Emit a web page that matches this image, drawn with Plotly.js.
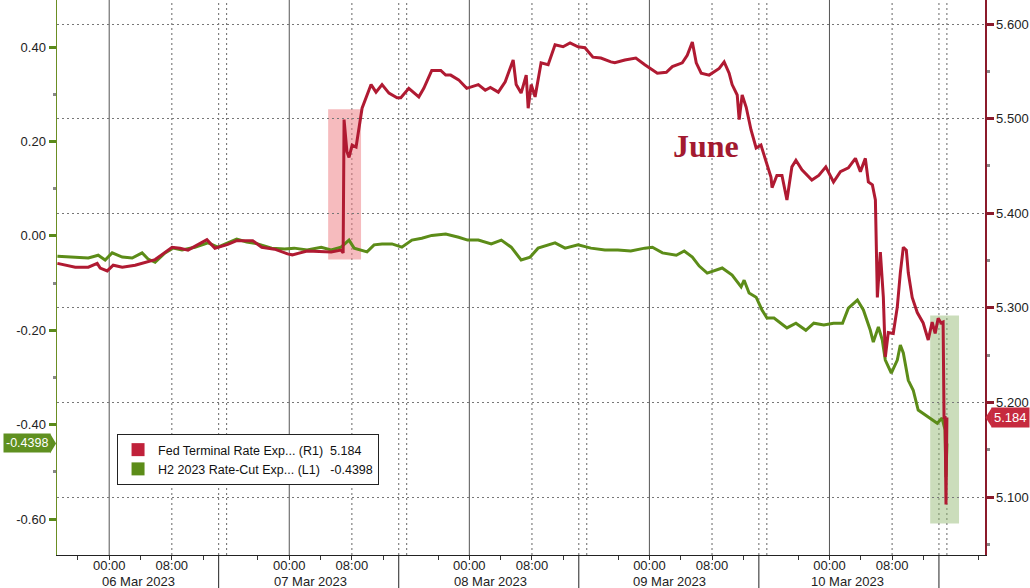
<!DOCTYPE html>
<html>
<head>
<meta charset="utf-8">
<script src="https://cdn.plot.ly/plotly-3.0.1.min.js"></script>
<style>html,body{margin:0;padding:0;background:#fff;}#chart{width:1030px;height:588px;}</style>
</head>
<body>
<div id="chart"></div>
<script>
// ---- Data ----
const fedTimes = ['2023-03-05 17:23','2023-03-05 19:40','2023-03-05 21:20','2023-03-05 22:28','2023-03-05 22:51','2023-03-05 23:45',
'2023-03-06 00:31','2023-03-06 01:40','2023-03-06 03:19','2023-03-06 05:52','2023-03-06 08:02','2023-03-06 09:03','2023-03-06 10:04','2023-03-06 12:29','2023-03-06 13:30',
'2023-03-06 16:09','2023-03-06 17:17','2023-03-06 19:20','2023-03-06 20:29','2023-03-06 22:08','2023-03-06 23:47',
'2023-03-07 00:23','2023-03-07 02:17','2023-03-07 04:05','2023-03-07 05:21','2023-03-07 06:37','2023-03-07 06:53','2023-03-07 07:00','2023-03-07 07:10','2023-03-07 07:22','2023-03-07 07:38','2023-03-07 08:02','2023-03-07 08:32','2023-03-07 08:55','2023-03-07 09:18','2023-03-07 10:27','2023-03-07 11:05','2023-03-07 11:51','2023-03-07 12:44','2023-03-07 13:46',
'2023-03-07 15:15','2023-03-07 16:16','2023-03-07 17:33','2023-03-07 18:11','2023-03-07 19:12','2023-03-07 20:21','2023-03-07 20:59','2023-03-07 21:37','2023-03-07 22:38','2023-03-07 23:40',
'2023-03-08 01:09','2023-03-08 02:02','2023-03-08 02:41','2023-03-08 03:42','2023-03-08 04:35','2023-03-08 05:36','2023-03-08 05:59','2023-03-08 06:37','2023-03-08 07:16','2023-03-08 07:31','2023-03-08 07:54','2023-03-08 08:24','2023-03-08 09:10','2023-03-08 10:04','2023-03-08 10:57','2023-03-08 11:58','2023-03-08 12:52','2023-03-08 13:53',
'2023-03-08 15:46','2023-03-08 16:47','2023-03-08 17:48','2023-03-08 19:05','2023-03-08 19:35','2023-03-08 20:52','2023-03-08 22:16','2023-03-08 23:25',
'2023-03-09 00:23','2023-03-09 01:01','2023-03-09 02:10','2023-03-09 02:56','2023-03-09 04:12','2023-03-09 04:50','2023-03-09 05:29','2023-03-09 05:59','2023-03-09 06:37','2023-03-09 07:38','2023-03-09 08:55','2023-03-09 09:33','2023-03-09 10:11','2023-03-09 10:34','2023-03-09 11:13','2023-03-09 11:28','2023-03-09 11:51','2023-03-09 12:22','2023-03-09 12:59','2023-03-09 13:38',
'2023-03-09 15:15','2023-03-09 15:53','2023-03-09 16:32','2023-03-09 16:40','2023-03-09 17:17','2023-03-09 17:56','2023-03-09 18:34','2023-03-09 19:12','2023-03-09 19:43','2023-03-09 20:29','2023-03-09 21:45','2023-03-09 22:38','2023-03-09 23:32',
'2023-03-10 00:31','2023-03-10 01:24','2023-03-10 02:25','2023-03-10 03:19','2023-03-10 03:57','2023-03-10 04:35','2023-03-10 04:58','2023-03-10 05:29','2023-03-10 05:52','2023-03-10 06:07','2023-03-10 06:30','2023-03-10 06:53','2023-03-10 07:08','2023-03-10 07:31','2023-03-10 08:09','2023-03-10 08:40','2023-03-10 09:03','2023-03-10 09:26','2023-03-10 09:49','2023-03-10 10:04','2023-03-10 10:34','2023-03-10 11:13','2023-03-10 11:58','2023-03-10 12:37','2023-03-10 13:07','2023-03-10 13:30','2023-03-10 13:53',
'2023-03-10 15:15','2023-03-10 15:31','2023-03-10 15:38','2023-03-10 15:46','2023-03-10 15:53','2023-03-10 16:00'];
const fedValues = [5.347,5.343,5.343,5.347,5.342,5.339,
5.345,5.343,5.345,5.351,5.364,5.363,5.361,5.372,5.363,
5.367,5.371,5.371,5.364,5.362,5.357,
5.356,5.360,5.359,5.359,5.361,5.358,5.499,5.480,5.465,5.459,5.472,5.470,5.491,5.511,5.536,5.528,5.536,5.527,5.522,
5.522,5.532,5.523,5.532,5.551,5.551,5.546,5.546,5.541,5.532,
5.536,5.530,5.533,5.528,5.539,5.562,5.536,5.527,5.546,5.511,5.536,5.523,5.559,5.557,5.578,5.576,5.580,5.576,
5.575,5.565,5.564,5.560,5.559,5.562,5.564,5.557,
5.551,5.548,5.549,5.555,5.559,5.567,5.581,5.559,5.548,5.546,5.553,5.560,5.548,5.536,5.525,5.499,5.525,5.512,5.488,5.469,
5.472,5.456,5.438,5.427,5.440,5.440,5.414,5.449,5.456,5.446,5.435,5.440,5.449,
5.433,5.444,5.448,5.458,5.444,5.458,5.433,5.430,5.414,5.311,5.359,5.311,5.248,5.274,5.273,5.301,5.337,5.364,5.361,5.337,5.311,5.295,5.284,5.266,5.285,5.273,5.289,
5.284,5.285,5.184,5.184,5.092,5.184];

const cutTimes = ['2023-03-05 17:23','2023-03-05 19:40','2023-03-05 21:20','2023-03-05 22:36','2023-03-05 23:29',
'2023-03-06 00:23','2023-03-06 01:40','2023-03-06 02:56','2023-03-06 04:12','2023-03-06 04:58','2023-03-06 05:52','2023-03-06 07:08','2023-03-06 08:09','2023-03-06 09:18','2023-03-06 10:57','2023-03-06 12:37','2023-03-06 13:53',
'2023-03-06 16:09','2023-03-06 17:17','2023-03-06 18:34','2023-03-06 19:58','2023-03-06 21:45','2023-03-06 23:25',
'2023-03-07 00:38','2023-03-07 02:17','2023-03-07 04:05','2023-03-07 05:21','2023-03-07 06:37','2023-03-07 07:38','2023-03-07 08:17','2023-03-07 09:56','2023-03-07 10:50','2023-03-07 11:51','2023-03-07 13:07',
'2023-03-07 15:23','2023-03-07 16:40','2023-03-07 17:56','2023-03-07 19:12','2023-03-07 20:59','2023-03-07 22:38','2023-03-07 23:47',
'2023-03-08 01:09','2023-03-08 02:48','2023-03-08 04:05','2023-03-08 05:21','2023-03-08 06:37','2023-03-08 07:46','2023-03-08 08:47','2023-03-08 10:57','2023-03-08 12:14','2023-03-08 13:53',
'2023-03-08 16:32','2023-03-08 18:19','2023-03-08 19:58','2023-03-08 21:37','2023-03-08 23:25',
'2023-03-09 00:23','2023-03-09 01:40','2023-03-09 03:26','2023-03-09 04:27','2023-03-09 05:29','2023-03-09 06:22','2023-03-09 07:23','2023-03-09 09:18','2023-03-09 10:34','2023-03-09 11:43','2023-03-09 12:06','2023-03-09 12:44','2023-03-09 13:38',
'2023-03-09 15:23','2023-03-09 16:01','2023-03-09 16:55','2023-03-09 18:34','2023-03-09 19:43','2023-03-09 20:59','2023-03-09 22:00','2023-03-09 23:17',
'2023-03-10 00:31','2023-03-10 01:40','2023-03-10 02:25','2023-03-10 03:34','2023-03-10 04:20','2023-03-10 05:13','2023-03-10 05:36','2023-03-10 06:15','2023-03-10 06:45','2023-03-10 07:08','2023-03-10 07:54','2023-03-10 08:40','2023-03-10 09:03','2023-03-10 09:26','2023-03-10 10:04','2023-03-10 10:42','2023-03-10 11:20','2023-03-10 12:14','2023-03-10 13:07','2023-03-10 13:46',
'2023-03-10 15:23','2023-03-10 15:46','2023-03-10 15:53','2023-03-10 16:00'];
const cutValues = [-0.043,-0.045,-0.047,-0.041,-0.051,
-0.036,-0.045,-0.047,-0.036,-0.049,-0.056,-0.036,-0.026,-0.030,-0.024,-0.015,-0.024,
-0.015,-0.007,-0.013,-0.017,-0.026,-0.028,
-0.026,-0.030,-0.024,-0.030,-0.024,-0.009,-0.026,-0.034,-0.019,-0.017,-0.017,
-0.024,-0.009,-0.005,0.001,0.004,-0.003,-0.009,
-0.009,-0.017,-0.009,-0.024,-0.051,-0.045,-0.026,-0.015,-0.026,-0.019,
-0.026,-0.030,-0.030,-0.032,-0.026,
-0.024,-0.036,-0.041,-0.032,-0.045,-0.064,-0.079,-0.068,-0.083,-0.108,-0.094,-0.121,-0.130,
-0.157,-0.174,-0.174,-0.195,-0.185,-0.200,-0.185,-0.189,
-0.185,-0.185,-0.153,-0.136,-0.157,-0.200,-0.225,-0.193,-0.221,-0.263,-0.291,-0.263,-0.231,-0.248,-0.306,-0.327,-0.369,-0.380,-0.390,-0.397,
-0.386,-0.411,-0.511,-0.4398];

const seriesNames = ['Fed Terminal Rate Exp... (R1)\u00a0\u00a05.184', 'H2 2023 Rate-Cut Exp... (L1)\u00a0\u00a0\u00a0-0.4398'];
const lastFed = 5.184;
const lastCut = -0.4398;
const leftTickVals = [-0.6, -0.4, -0.2, 0, 0.2, 0.4];
const leftTickText = ['-0.60', '-0.40', '-0.20', '0.00', '0.20', '0.40'];
const rightTickVals = [5.1, 5.2, 5.3, 5.4, 5.5, 5.6];
const rightTickText = ['5.100', '5.200', '5.300', '5.400', '5.500', '5.600'];
const days = ['2023-03-06', '2023-03-07', '2023-03-08', '2023-03-09', '2023-03-10'];
const dayLabels = ['06 Mar 2023', '07 Mar 2023', '08 Mar 2023', '09 Mar 2023', '10 Mar 2023'];

// ---- Styling ----
const RED = '#b01a32';
const GREEN = '#5c8c18';
const FONT = 'Liberation Sans, Arial, sans-serif';

// x ticks: every 4h, labels at 00:00 and 08:00
const xTickVals = [], xTickText = [];
['2023-03-05'].concat(days).forEach(d => {
  ['00','04','08','12','20'].forEach(h => {
    xTickVals.push(d + ' ' + h + ':00');
    xTickText.push(h === '00' || h === '08' ? h + ':00' : '');
  });
});

const shapes = [];
days.forEach(d => {
  shapes.push({type:'line', xref:'x', yref:'paper', x0:d+' 00:00', x1:d+' 00:00', y0:0, y1:1, layer:'below', line:{color:'#555', width:1}});
  ['08:00','13:59','16:00'].forEach(t => {
    shapes.push({type:'line', xref:'x', yref:'paper', x0:d+' '+t, x1:d+' '+t, y0:0, y1:1, layer:'below', line:{color:'#666', width:1, dash:'2px,3px'}});
  });
  shapes.push({type:'line', xref:'x', yref:'paper', x0:d+' 13:59', x1:d+' 13:59', y0:-0.06, y1:0, layer:'above', line:{color:'#222', width:1}});
});
// highlight boxes
shapes.push({type:'rect', xref:'x', yref:'y2', x0:'2023-03-07 04:58', x1:'2023-03-07 09:10', y0:5.351, y1:5.510, layer:'below', line:{width:0}, fillcolor:'rgba(238,120,125,0.5)'});
shapes.push({type:'rect', xref:'x', yref:'y2', x0:'2023-03-10 12:52', x1:'2023-03-10 17:33', y0:5.072, y1:5.292, layer:'below', line:{width:0}, fillcolor:'rgba(140,180,105,0.45)'});
// pointers of the last-value tags
shapes.push({type:'path', xref:'paper', yref:'y2', path:'M 1.0005 ' + lastFed + ' L 1.0075 ' + (lastFed + 0.0106) + ' L 1.0075 ' + (lastFed - 0.0106) + ' Z',
  fillcolor:'#c62a3e', line:{width:0}, layer:'above'});
shapes.push({type:'path', xref:'paper', yref:'y', path:'M -0.001 ' + lastCut + ' L -0.0075 ' + (lastCut + 0.021) + ' L -0.0075 ' + (lastCut - 0.021) + ' Z',
  fillcolor:'#5f9020', line:{width:0}, layer:'above'});

const dateLabelX = ['2023-03-06 03:41', '2023-03-07 02:40', '2023-03-08 02:40', '2023-03-09 02:33', '2023-03-10 02:18'];
const annotations = dayLabels.map((lab, i) => ({
  text: lab, xref:'x', yref:'paper', x: dateLabelX[i], y: -0.048, showarrow:false,
  xanchor:'center', yanchor:'middle', font:{family:FONT, size:13, color:'#222'}
}));
annotations.push({text:'<b>June</b>', xref:'x', yref:'y2', x:'2023-03-09 07:16', y:5.471, showarrow:false,
  xanchor:'center', yanchor:'middle', font:{family:'Liberation Serif, DejaVu Serif, serif', size:32, color:'#a31a30'}});
annotations.push({text:String(lastFed), xref:'paper', yref:'y2', x:1, y:lastFed, xshift:6, xanchor:'left', yanchor:'middle', showarrow:false,
  bgcolor:'#c62a3e', borderpad:2, font:{family:FONT, size:13, color:'#fff'}});
annotations.push({text:String(lastCut), xref:'paper', yref:'y', x:0, y:lastCut, xshift:-6, xanchor:'right', yanchor:'middle', showarrow:false,
  bgcolor:'#5f9020', borderpad:2, font:{family:FONT, size:12.5, color:'#fff'}});

const traces = [
  {x: fedTimes, y: fedValues, yaxis:'y2', type:'scatter', mode:'lines', line:{color:RED, width:3}, showlegend:false, name:seriesNames[0]},
  {x: cutTimes, y: cutValues, yaxis:'y', type:'scatter', mode:'lines', line:{color:GREEN, width:3}, showlegend:false, name:seriesNames[1]},
  {x:[null], y:[null], type:'scatter', mode:'markers', marker:{symbol:'square', size:13, color:'#c0213a'}, name:seriesNames[0], showlegend:true},
  {x:[null], y:[null], type:'scatter', mode:'markers', marker:{symbol:'square', size:13, color:'#5c8c18'}, name:seriesNames[1], showlegend:true}
];

const layout = {
  width:1030, height:588,
  margin:{l:57, r:45, t:0, b:33, pad:0},
  paper_bgcolor:'#fff', plot_bgcolor:'#fff',
  font:{family:FONT, size:13, color:'#222'},
  showlegend:true,
  legend:{x:0.0647, y:0.218, xanchor:'left', yanchor:'top', bgcolor:'#fff', bordercolor:'#222', borderwidth:1,
    font:{family:FONT, size:12.5, color:'#111'}, tracegroupgap:0, itemwidth:30},
  xaxis:{type:'date', range:['2023-03-05 17:20','2023-03-10 20:52'],
    rangebreaks:[{pattern:'hour', bounds:[14,15]}],
    tickmode:'array', tickvals:xTickVals, ticktext:xTickText,
    ticks:'outside', ticklen:4, tickcolor:'#333', showline:true, linecolor:'#222', linewidth:1,
    ticklabelstandoff:-6,
    showgrid:false, zeroline:false, tickfont:{family:FONT, size:13, color:'#222'}, tickangle:0, fixedrange:true},
  yaxis:{range:[-0.676, 0.4996], tickmode:'array', tickvals:leftTickVals, ticktext:leftTickText,
    ticks:'outside', ticklen:7, tickwidth:3, tickcolor:'#5a8a1a', showline:true, linecolor:'#6b8e23', linewidth:1.5,
    showgrid:false, zeroline:false, tickfont:{family:FONT, size:13, color:'#222'},
    minor:{tick0:0, dtick:0.1, ticks:'outside', ticklen:3, tickcolor:'#888', showgrid:false}},
  yaxis2:{overlaying:'y', side:'right', range:[5.0387, 5.6254], tickmode:'array', tickvals:rightTickVals, ticktext:rightTickText,
    ticks:'outside', ticklen:7, tickwidth:3, tickcolor:'#8b1a2b', showline:true, linecolor:'#8b1a2b', linewidth:1.5,
    showgrid:true, gridcolor:'#777', gridwidth:1, griddash:'2px,3px', zeroline:false,
    tickfont:{family:FONT, size:13, color:'#222'},
    minor:{tick0:5.0, dtick:0.05, ticks:'outside', ticklen:3, tickcolor:'#888', showgrid:false}},
  shapes: shapes,
  annotations: annotations
};

Plotly.newPlot('chart', traces, layout, {displayModeBar:false, staticPlot:true});
</script>
</body>
</html>
